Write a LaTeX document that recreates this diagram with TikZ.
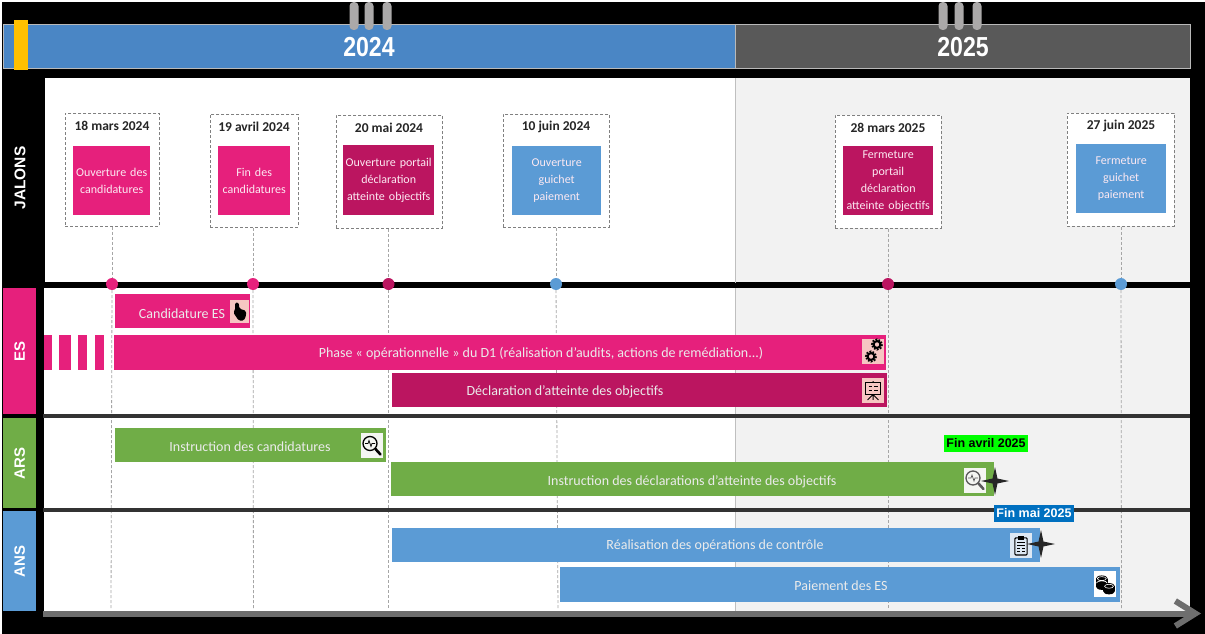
\documentclass[tikz,border=0pt]{standalone}
\usepackage{fontspec}
\setmainfont{Carlito}
\newfontfamily\arialfont{Liberation Sans}
\usepackage{xcolor}
\usetikzlibrary{positioning,arrows.meta,calc,shapes.geometric}
\definecolor{espink}{HTML}{E6207C}
\definecolor{esdark}{HTML}{BB1560}
\definecolor{arsgreen}{HTML}{70AD47}
\definecolor{ansblue}{HTML}{5B9BD5}
\definecolor{yearblue}{HTML}{4A86C5}
\definecolor{yeargray}{HTML}{595959}
\definecolor{ringgray}{HTML}{ABA9A9}
\definecolor{panelgray}{HTML}{F2F2F2}
\definecolor{dashgray}{HTML}{A6A6A6}
\definecolor{rowdark}{HTML}{333333}
\definecolor{axisgray}{HTML}{6E6E6E}
\definecolor{tilepink}{HTML}{F6C6C2}
\definecolor{tilegreen}{HTML}{F4F6F2}
\definecolor{tileblue}{HTML}{DDE8F4}
\definecolor{nowyellow}{HTML}{FFC000}
\definecolor{finblue}{HTML}{0070C0}
\tikzset{
  gearicon/.pic={
    \draw[line width=2.2pt, dash pattern=on 1.7pt off 1.3pt] (0,0) circle (4.9);
    \draw[line width=2pt] (0,0) circle (3.4);
  },
  handicon/.pic={
    \fill[black, rounded corners=1.5pt] (-5,-10) -- (-1,-10) -- (0,-3) -- (7,-1) -- (7.5,4) -- (5,10) -- (-1,10) -- (-7,1) -- (-5,-1) -- cycle;
  },
  boardicon/.pic={
    \draw[line width=1.2pt] (-8,-8) rectangle (8,5);
    \draw[line width=0.8pt] (-5,-4) -- (-1,-4) (1,-4) -- (5,-4) (-5,0) -- (-1,0) (1,0) -- (5,0);
    \draw[line width=1pt] (0,5) -- (-6,11) (0,5) -- (6,11) (0,5) -- (0,11) (0,-8) -- (0,-10);
  },
  lensicon/.pic={
    \draw[line width=1.3pt, pic actions] (-2,-2) circle (7);
    \draw[line width=0.7pt, pic actions] (-7,-2) -- (-4,-2) -- (-3,-5) -- (-1,1) -- (0,-2) -- (3,-2);
    \draw[line width=2.6pt, line cap=round, pic actions] (3.5,3.5) -- (8.5,9);
  },
  clipicon/.pic={
    \draw[line width=1.1pt, rounded corners=1pt] (-6.5,-8) rectangle (6.5,10);
    \fill[black] (-3,-10) rectangle (3,-6);
    \draw[line width=0.8pt] (-4,-3) -- (4,-3) (-4,0) -- (4,0) (-4,3) -- (-1,3) (1,3) -- (4,3) (-4,6) -- (-1,6) (1,6) -- (4,6);
  },
  coinicon/.pic={
    \fill[black] (-9.5,-6) rectangle (3.5,3);
    \fill[black] (-3,-6) ellipse (6.5 and 3.5);
    \fill[black] (-3,3) ellipse (6.5 and 3.5);
    \draw[white, line width=0.6pt] (-3,-6) ellipse (5 and 2.2) (-9,-1) arc (180:0:6 and -2.5);
    \fill[black] (-1.5,2.5) rectangle (11.5,8);
    \fill[black] (5,8) ellipse (6.5 and 3.5);
    \fill[black] (5,2.5) ellipse (6.5 and 3.5);
    \draw[white, line width=0.6pt] (5,2.5) ellipse (5 and 2.2);
  },
}

\begin{document}
\begin{tikzpicture}[x=1pt, y=-1pt, font=\fontsize{13}{16}\selectfont,
  yearbar/.style={draw=gray!55, line width=0.9pt, anchor=north west, minimum height=44pt, inner sep=0pt},
  yearlab/.style={text=white, inner sep=0pt, font=\arialfont\bfseries\fontsize{27.5}{30}\selectfont},
  ring/.style={fill=ringgray, rounded corners=4pt, minimum width=9pt, minimum height=28pt, inner sep=0pt},
  panel/.style={anchor=north west, inner sep=0pt},
  actor/.style={anchor=north west, inner sep=0pt, minimum width=33pt},
  actorlab/.style={rotate=90, text=white, inner sep=0pt, font=\arialfont\bfseries\fontsize{15}{17}\selectfont},
  datebox/.style={draw=gray, fill=white, densely dashed, line width=0.8pt, anchor=north west, inner sep=0pt},
  datelab/.style={font=\bfseries\fontsize{13.5}{15}\selectfont, text=black!85, inner sep=0pt},
  tag/.style={anchor=north west, inner sep=0pt, align=center, text=white!90!espink, font=\fontsize{12}{17}\selectfont},
  dot/.style={circle, inner sep=0pt, minimum size=12pt},
  guide/.style={draw=dashgray, densely dashed, line width=0.8pt},
  rowline/.style={draw=rowdark, line width=3.2pt},
  bar/.style={anchor=north west, inner sep=0pt},
  barlab/.style={text=white!92!black, inner sep=0pt, yshift=-1.5pt, font=\fontsize{14}{16}\selectfont},
  tile/.style={inner sep=0pt, minimum width=22pt, minimum height=25pt},
  endstar/.style={star, star points=4, star point ratio=4, fill=black!85, inner sep=0pt, minimum size=28pt},
  endlab/.style={inner sep=0pt, minimum height=17pt, font=\arialfont\bfseries\fontsize{12.5}{14}\selectfont}]
\useasboundingbox (0,0) rectangle (1205,634);
\fill[black] (2,2) rectangle (1205,634);
% panels
\node[panel, fill=white, minimum width=690pt, minimum height=204pt] (topA) at (45,78) {};
\node[panel, fill=panelgray, minimum width=455pt, minimum height=204pt] (topB) at (735,78) {};
\node[panel, fill=white, minimum width=691pt, minimum height=323pt] (lowA) at (44,288) {};
\node[panel, fill=panelgray, minimum width=455pt, minimum height=323pt] (lowB) at (735,288) {};
\draw[draw=gray!50, line width=0.6pt] (topB.north west) -- (lowB.south west);
% years
\node[yearbar, fill=yearblue, minimum width=732pt] (y2024) at (3,24) {};
\node[yearbar, fill=yeargray, minimum width=455pt] (y2025) at (735,24) {};
\node[yearlab] (t2024) at (369,47) {\scalebox{.84}[1]{2024}};
\node[yearlab] (t2025) at (963,47) {\scalebox{.84}[1]{2025}};
\node[fill=nowyellow, anchor=north west, minimum width=14pt, minimum height=50pt, inner sep=0pt] (now) at (14,20) {};
\node[ring] (r1) at (354,16) {};
\node[ring] (r2) at (369,16) {};
\node[ring] (r3) at (387,16) {};
\node[ring] (r4) at (943,16) {};
\node[ring] (r5) at (959,16) {};
\node[ring] (r6) at (977,16) {};
% actors
\node[actorlab, font=\arialfont\bfseries\fontsize{15.5}{17}\selectfont] (jalons) at (20,178) {JALONS};
\node[actor, fill=espink, minimum height=126pt] (es) at (3,288) {};
\node[actor, fill=arsgreen, minimum height=90pt] (ars) at (3,418) {};
\node[actor, fill=ansblue, minimum height=100pt] (ans) at (3,511) {};
\node[actorlab] (esT) at (es) {ES};
\node[actorlab] (arsT) at (ars) {ARS};
\node[actorlab] (ansT) at (ans) {ANS};
% jalons
\node[datebox, minimum width=94pt, minimum height=113pt] (boxA) at (65,113) {};
\node[datebox, minimum width=88pt, minimum height=113pt] (boxB) at (210,114) {};
\node[datebox, minimum width=106pt, minimum height=113pt] (boxC) at (336,115) {};
\node[datebox, minimum width=106pt, minimum height=113pt] (boxD) at (503,114) {};
\node[datebox, minimum width=106pt, minimum height=113pt] (boxE) at (835,115) {};
\node[datebox, minimum width=107pt, minimum height=113pt] (boxF) at (1067,113) {};
\node[datelab] (dateA) at (112,126) {18 mars 2024};
\node[datelab] (dateB) at (254,127) {19 avril 2024};
\node[datelab] (dateC) at (389,128) {20 mai 2024};
\node[datelab] (dateD) at (556,127) {10 juin 2024};
\node[datelab] (dateE) at (888,128) {28 mars 2025};
\node[datelab] (dateF) at (1121,126) {27 juin 2025};
\node[tag, fill=espink, text width=77pt, minimum height=69pt] (tagA) at (73,146) {Ouverture des\\candidatures};
\node[tag, fill=espink, text width=72pt, minimum height=69pt] (tagB) at (218,146) {Fin des\\candidatures};
\node[tag, fill=esdark, text width=91pt, minimum height=70pt] (tagC) at (343,145) {Ouverture portail\\déclaration\\atteinte objectifs};
\node[tag, fill=ansblue, text width=89pt, minimum height=69pt] (tagD) at (512,146) {Ouverture\\guichet\\paiement};
\node[tag, fill=esdark, text width=90pt, minimum height=69pt] (tagE) at (843,146) {Fermeture\\portail\\déclaration\\atteinte objectifs};
\node[tag, fill=ansblue, text width=90pt, minimum height=69pt] (tagF) at (1076,144) {Fermeture\\guichet\\paiement};
% axe
\draw[draw=black, line width=5pt] (topA.south west) ++(-1,3) coordinate (lineL) -- ($(topB.south east)+(0,3)$) coordinate (lineR);
\node[dot, fill=espink] (dotA) at (112,284) {};
\node[dot, fill=espink] (dotB) at (253,284) {};
\node[dot, fill=esdark] (dotC) at (388.5,284) {};
\node[dot, fill=ansblue] (dotD) at (556,284) {};
\node[dot, fill=esdark] (dotE) at (888,284) {};
\node[dot, fill=ansblue] (dotF) at (1121,284) {};
\coordinate (endA) at (111,610);
\coordinate (endB) at (253.5,610);
\coordinate (endC) at (388.5,610);
\coordinate (endD) at (558,610);
\coordinate (endE) at (888,610);
\coordinate (endF) at (1121.5,610);
\draw[guide] (boxA.south -| dotA) -- (dotA);
\draw[guide] (boxB.south -| dotB) -- (dotB);
\draw[guide] (boxC.south -| dotC) -- (dotC);
\draw[guide] (boxD.south -| dotD) -- (dotD);
\draw[guide] (boxE.south -| dotE) -- (dotE);
\draw[guide] (boxF.south -| dotF) -- (dotF);
\draw[guide] (dotA) -- (endA);
\draw[guide] (dotB) -- (endB);
\draw[guide] (dotC) -- (endC);
\draw[guide] (dotD) -- (endD);
\draw[guide] (dotE) -- (endE);
\draw[guide] (dotF) -- (endF);
\coordinate (sepA) at (43,416);
\coordinate (sepB) at (43,510);
\draw[rowline] (sepA) -- (sepA -| topB.east);
\draw[rowline] (sepB) -- (sepB -| topB.east);
\draw[draw=axisgray, line width=6pt, -{Straight Barb[length=20pt, width=25pt, line width=6pt]}] (43,613.5) coordinate (axisL) -- (1201,613.5) coordinate (axisR);
% barres ES
\node[panel, fill=espink, minimum width=8pt, minimum height=35pt] (tickA) at (44,335) {};
\node[panel, fill=espink, minimum width=12pt, minimum height=35pt] (tickB) at (59,335) {};
\node[panel, fill=espink, minimum width=9pt, minimum height=35pt] (tickC) at (78,335) {};
\node[panel, fill=espink, minimum width=9pt, minimum height=35pt] (tickD) at (95,335) {};
\node[bar, fill=espink, minimum width=135.5pt, minimum height=34pt] (candES) at (114.5,294) {};
\node[bar, fill=espink, minimum width=772.5pt, minimum height=35pt] (phase) at (113.5,335) {};
\node[bar, fill=esdark, minimum width=495pt, minimum height=34pt] (decl) at (391.5,373) {};
\node[barlab] (candEST) at (182,312) {Candidature ES};
\node[barlab] (phaseT) at (541,352) {Phase « opérationnelle » du D1 (réalisation d’audits, actions de remédiation...)};
\node[barlab] (declT) at (565,390) {Déclaration d’atteinte des objectifs};
% barres ARS
\node[bar, fill=arsgreen, minimum width=271.5pt, minimum height=34pt] (instrA) at (114.5,428) {};
\node[bar, fill=arsgreen, minimum width=603pt, minimum height=34pt] (instrB) at (390.5,462) {};
\node[barlab] (instrAT) at (250,445) {Instruction des candidatures};
\node[barlab] (instrBT) at (692,480) {Instruction des déclarations d’atteinte des objectifs};
% barres ANS
\node[bar, fill=ansblue, minimum width=648.5pt, minimum height=34pt] (ctrl) at (391.5,527.5) {};
\node[bar, fill=ansblue, minimum width=560.5pt, minimum height=35pt] (paie) at (559.5,567) {};
\node[barlab] (ctrlT) at (715,544) {Réalisation des opérations de contrôle};
\node[barlab] (paieT) at (841,584) {Paiement des ES};
% icones
\node[tile, fill=tilepink, minimum width=19pt, minimum height=23pt] (tileA) at (239.5,311.5) {};
\node[tile, fill=tilepink] (tileB) at (873,351.5) {};
\node[tile, fill=tilepink] (tileC) at (873,390) {};
\node[tile, fill=tilegreen] (tileD) at (372,445.5) {};
\node[tile, fill=tilegreen] (tileE) at (975,480) {};
\node[tile, fill=tileblue] (tileF) at (1021,545.5) {};
\node[tile, fill=white, minimum height=26pt] (tileG) at (1104.5,584) {};
\pic[scale=0.9] at (tileA) {handicon};
\pic at ($(tileB)+(4,-7)$) {gearicon};
\pic at ($(tileB)+(-2,5)$) {gearicon};
\pic[scale=0.9] at (tileC) {boardicon};
\pic[draw=black] at (tileD) {lensicon};
\pic[draw=gray!70!black] at (tileE) {lensicon};
\pic[scale=0.95] at (tileF) {clipicon};
\pic[scale=0.9] at (tileG) {coinicon};
% fins
\node[endstar] (starA) at (995,481) {};
\node[endstar] (starB) at (1041,544) {};
\node[endlab, fill=green, text=black, minimum width=84pt] (finA) at (986,443.5) {Fin avril 2025};
\node[endlab, fill=finblue, text=white, minimum width=80pt] (finB) at (1034,513.5) {Fin mai 2025};
\end{tikzpicture}
\end{document}
